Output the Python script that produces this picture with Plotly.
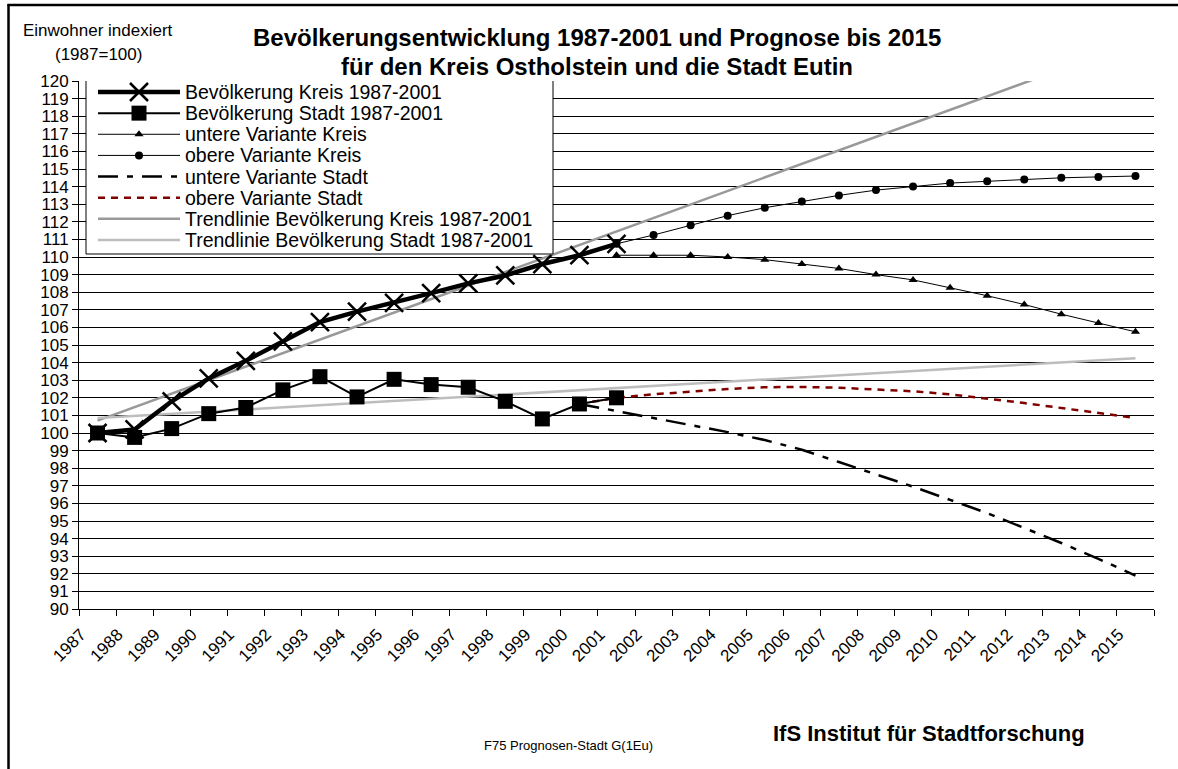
import plotly.graph_objects as go

# ---------------- data ----------------
years = list(range(1987, 2016))
hist_years = list(range(1987, 2002))
kreis = [100.0, 100.2, 101.8, 103.1, 104.1, 105.2, 106.3, 106.9, 107.4, 107.95,
         108.5, 108.95, 109.6, 110.1, 110.75]
stadt = [100.0, 99.75, 100.25, 101.1, 101.45, 102.45, 103.2, 102.05, 103.05, 102.75,
         102.6, 101.8, 100.8, 101.65, 102.0]

kreis_var_years = list(range(2001, 2016))
kreis_lower = [110.1, 110.1, 110.1, 110.0, 109.85, 109.6, 109.35, 109.0, 108.7, 108.25,
               107.8, 107.3, 106.75, 106.25, 105.75]
kreis_upper = [110.75, 111.25, 111.8, 112.35, 112.8, 113.15, 113.5, 113.8, 114.0, 114.2,
               114.3, 114.4, 114.5, 114.55, 114.6]

stadt_var_years = list(range(2000, 2016))
stadt_lower = [101.65, 101.25, 100.85, 100.45, 100.05, 99.6, 99.05, 98.35, 97.65, 96.95,
               96.2, 95.45, 94.6, 93.75, 92.85, 91.9]
stadt_upper = [101.65, 102.0, 102.2, 102.35, 102.5, 102.6, 102.62, 102.57, 102.48, 102.37,
               102.2, 101.97, 101.7, 101.42, 101.15, 100.85]

trend_years = [1987, 2015]
trend_kreis = [100.7, 122.2]
trend_stadt = [100.85, 104.25]

y_ticks = list(range(90, 121))
x_labels = [str(y) for y in years]

legend_names = [
    "Bevölkerung Kreis 1987-2001",
    "Bevölkerung Stadt 1987-2001",
    "untere Variante Kreis",
    "obere Variante Kreis",
    "untere Variante Stadt",
    "obere Variante Stadt",
    "Trendlinie Bevölkerung Kreis 1987-2001",
    "Trendlinie Bevölkerung Stadt 1987-2001",
]

# ---------------- layout geometry (pixels) ----------------
W, H = 1178, 769
PL, PR, PT, PB = 79, 1154, 81, 609  # plot area


def px_x(px):
    return (px - PL) / (PR - PL)


def px_y(py):
    return (PB - py) / (PB - PT)


FONT = "Arial, Liberation Sans, sans-serif"
RED = "#800000"

styles = [
    dict(line=dict(color="black", width=4.5), marker=dict(symbol="x-thin", size=18, line=dict(width=2.5, color="black"))),
    dict(line=dict(color="black", width=2), marker=dict(symbol="square", size=15, color="black")),
    dict(line=dict(color="black", width=1), marker=dict(symbol="triangle-up", size=8, color="black")),
    dict(line=dict(color="black", width=1), marker=dict(symbol="circle", size=8, color="black")),
    dict(line=dict(color="black", width=2.5, dash="20px,9px,6px,9px"), marker=None),
    dict(line=dict(color=RED, width=2.5, dash="7px,6px"), marker=None),
    dict(line=dict(color="#999999", width=2.5), marker=None),
    dict(line=dict(color="#bdbdbd", width=2.5), marker=None),
]

fig = go.Figure()


def add(x, y, idx):
    st = styles[idx]
    kw = dict(x=x, y=y, showlegend=False, line=st["line"], hoverinfo="skip")
    if st["marker"] is not None:
        kw["mode"] = "lines+markers"
        kw["marker"] = st["marker"]
    else:
        kw["mode"] = "lines"
    fig.add_trace(go.Scatter(**kw))


# trend lines first (drawn underneath)
add(trend_years, trend_kreis, 6)
add(trend_years, trend_stadt, 7)
# forecast variants
add(stadt_var_years, stadt_lower, 4)
add(stadt_var_years, stadt_upper, 5)
add(kreis_var_years, kreis_lower, 2)
add(kreis_var_years, kreis_upper, 3)
# actual data
add(hist_years, stadt, 1)
add(hist_years, kreis, 0)

# ---------------- manual legend on overlay axes ----------------
LX0, LX1, LY0, LY1 = 86, 553, 80, 254
fig.add_trace(go.Scatter(
    x=[px_x(LX0), px_x(LX1), px_x(LX1), px_x(LX0), px_x(LX0)],
    y=[px_y(LY0), px_y(LY0), px_y(LY1), px_y(LY1), px_y(LY0)],
    mode="lines", fill="toself", fillcolor="white",
    line=dict(color="black", width=1), xaxis="x2", yaxis="y2",
    showlegend=False, hoverinfo="skip"))

annotations = []
for i, name in enumerate(legend_names):
    ry = 92 + 21.14 * i
    st = styles[i]
    fig.add_trace(go.Scatter(
        x=[px_x(98), px_x(180)], y=[px_y(ry), px_y(ry)], mode="lines",
        line=st["line"], xaxis="x2", yaxis="y2", showlegend=False, hoverinfo="skip"))
    if st["marker"] is not None:
        fig.add_trace(go.Scatter(
            x=[px_x(139)], y=[px_y(ry)], mode="markers", marker=st["marker"],
            xaxis="x2", yaxis="y2", showlegend=False, hoverinfo="skip"))
    annotations.append(dict(
        x=px_x(183), y=px_y(ry), xref="paper", yref="paper", text=name,
        showarrow=False, xanchor="left", yanchor="middle",
        font=dict(family=FONT, size=19.5, color="black")))

# ---------------- texts ----------------
annotations += [
    dict(x=px_x(597), y=px_y(37), text="<b>Bevölkerungsentwicklung 1987-2001 und Prognose bis 2015</b>",
         font=dict(family=FONT, size=24, color="black")),
    dict(x=px_x(597), y=px_y(67), text="<b>für den Kreis Ostholstein und die Stadt Eutin</b>",
         font=dict(family=FONT, size=24, color="black")),
    dict(x=px_x(98), y=px_y(31), text="Einwohner indexiert",
         font=dict(family=FONT, size=17, color="black")),
    dict(x=px_x(98), y=px_y(54), text="(1987=100)",
         font=dict(family=FONT, size=17, color="black")),
    dict(x=px_x(929), y=px_y(733), text="<b>IfS Institut für Stadtforschung</b>",
         font=dict(family=FONT, size=22, color="black")),
    dict(x=px_x(568), y=px_y(745), text="F75 Prognosen-Stadt G(1Eu)",
         font=dict(family=FONT, size=13, color="black")),
]
for a in annotations[len(legend_names):]:
    a.update(xref="paper", yref="paper", showarrow=False, xanchor="center", yanchor="middle")

# ---------------- frame ----------------
shapes = [
    dict(type="line", xref="paper", yref="paper", x0=px_x(8.5), x1=px_x(8.5),
         y0=px_y(4), y1=px_y(H + 5), line=dict(color="black", width=2.5)),
    dict(type="line", xref="paper", yref="paper", x0=px_x(7.5), x1=px_x(W + 5),
         y0=px_y(5), y1=px_y(5), line=dict(color="black", width=2.5)),
]

fig.update_layout(
    width=W, height=H,
    margin=dict(l=PL, r=W - PR, t=PT, b=H - PB),
    paper_bgcolor="white", plot_bgcolor="white",
    font=dict(family=FONT, color="black"),
    showlegend=False,
    annotations=annotations,
    shapes=shapes,
    xaxis=dict(
        range=[1986.5, 2015.5], tickmode="array",
        tickvals=[y - 0.45 for y in years], ticktext=x_labels,
        tickangle=-45, ticks="", showgrid=False, zeroline=False,
        showline=True, linecolor="black", linewidth=1, ticklabelstandoff=8,
        tickfont=dict(family=FONT, size=17, color="black"),
        minor=dict(tickmode="array", tickvals=[y - 0.5 for y in years] + [2015.5],
                   ticks="outside", ticklen=6, tickcolor="black", tickwidth=1, showgrid=False),
    ),
    yaxis=dict(
        range=[90, 120], tickmode="array", tickvals=y_ticks, ticks="outside", ticklen=6,
        tickcolor="black", showgrid=True, gridcolor="black", gridwidth=1, zeroline=False,
        showline=True, linecolor="black", linewidth=1,
        tickfont=dict(family=FONT, size=17, color="black"),
    ),
    xaxis2=dict(overlaying="x", range=[0, 1], visible=False, fixedrange=True),
    yaxis2=dict(overlaying="y", range=[0, 1], visible=False, fixedrange=True),
)

fig.write_html("out.html", config={"displayModeBar": False},
               post_script="document.body.style.margin='0';")
